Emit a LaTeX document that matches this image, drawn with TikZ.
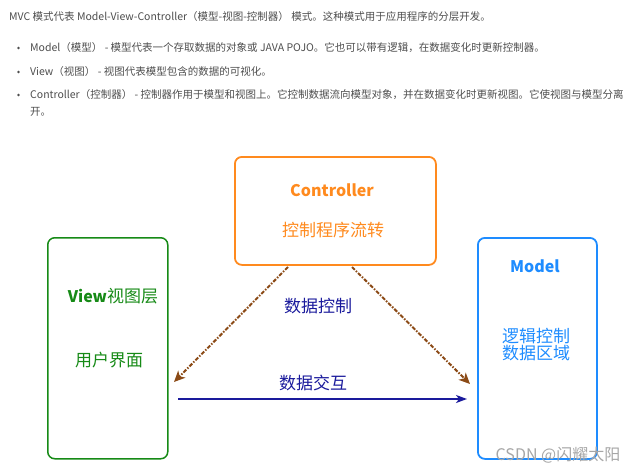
\documentclass[tikz,border=0pt]{standalone}
\usepackage{fontspec}
\setmainfont{Noto Sans CJK SC}
\usepackage{tikz}
\usetikzlibrary{arrows.meta}
\definecolor{mvcOrange}{HTML}{FF8A1E}
\definecolor{mvcGreen}{HTML}{168A16}
\definecolor{mvcBlue}{HTML}{1E8CFF}
\definecolor{mvcNavy}{HTML}{1A1A9C}
\definecolor{mvcBrown}{HTML}{8B4A16}
\definecolor{mvcText}{HTML}{4D4D4D}
\begin{document}
\begin{tikzpicture}[x=1pt, y=-1pt, >=Stealth,
  layer/.style={draw, line width=1.8pt, rounded corners=7pt, anchor=north west, inner sep=0pt},
  title/.style={font=\fontsize{16}{18}\selectfont\bfseries},
  body/.style={font=\fontsize{17}{17}\selectfont, align=center},
  intro/.style={mvcText, font=\fontsize{10.5}{13}\selectfont, anchor=west, inner sep=0pt},
  ctrlflowline/.style={mvcBrown, line width=2pt, dash pattern=on 4pt off 1.5pt on 1.5pt off 1.5pt,
    -{Stealth[length=11pt, width=10pt, inset=3pt]}}]
\useasboundingbox (0,0) rectangle (642,476);
% intro text
\node[intro] (line1) at (9,17) {MVC 模式代表 Model-View-Controller（模型-视图-控制器） 模式。这种模式用于应用程序的分层开发。};
\node[intro] (item1) at (30,48) {Model（模型） - 模型代表一个存取数据的对象或 JAVA POJO。它也可以带有逻辑，在数据变化时更新控制器。};
\node[intro] (item2) at (30,72) {View（视图） - 视图代表模型包含的数据的可视化。};
\node[intro] (item3) at (30,95) {Controller（控制器） - 控制器作用于模型和视图上。它控制数据流向模型对象，并在数据变化时更新视图。它使视图与模型分离};
\node[intro] (item3b) at (30,112) {开。};
\foreach \y in {48,72,95}
  \fill[mvcText] (18.5,\y) circle (1.3);
% the three layers
\node[layer, mvcOrange, minimum width=201pt, minimum height=108pt] (ctrl) at (234,156) {};
\node[layer, mvcGreen, line width=1.5pt, minimum width=120pt, minimum height=221pt] (view) at (47,237) {};
\node[layer, mvcBlue, minimum width=119pt, minimum height=221pt] (model) at (477,237) {};
\node[title, mvcOrange] (ctrlname) at (332,190) {Controller};
\node[body, mvcOrange] (ctrltask) at (333,230) {控制程序流转};
\node[body, mvcGreen] (viewname) at (113,296) {\fontsize{16}{18}\selectfont\bfseries View\fontsize{17}{17}\selectfont\mdseries 视图层};
\node[body, mvcGreen] (viewtask) at (109,360) {用户界面};
\node[title, mvcBlue] (modelname) at (535,266) {Model};
\node[body, mvcBlue] (modeltask) at (536,345) {逻辑控制\\数据区域};
% connectors
\coordinate (ctrlleft) at (288,267);
\coordinate (viewend) at (174,382);
\coordinate (ctrlright) at (352,267);
\coordinate (modelend) at (470,384);
\coordinate (viewout) at (178,399);
\coordinate (modelin) at (467,399);
\draw[ctrlflowline] (ctrlleft) -- (viewend);
\draw[ctrlflowline] (ctrlright) -- (modelend);
\draw[mvcNavy, line width=1.6pt, -{Stealth[length=11pt, width=8pt, inset=3pt]}] (viewout) -- (modelin);
\node[body, mvcNavy] (ctrlflow) at (318,306) {数据控制};
\node[body, mvcNavy] (dataflow) at (313,383) {数据交互};
\node[gray!70, font=\fontsize{16}{18}\selectfont] (mark) at (558,455) {CSDN @闪耀太阳};
\end{tikzpicture}
\end{document}
